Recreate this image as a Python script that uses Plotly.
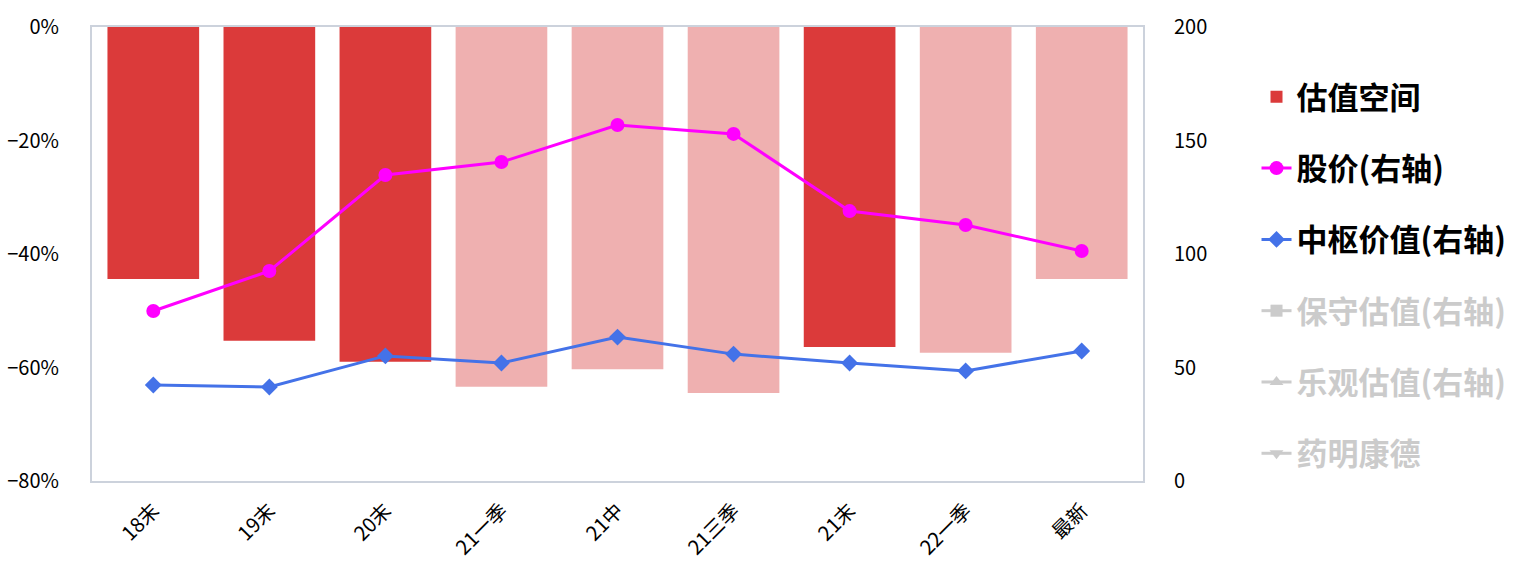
import plotly.graph_objects as go

categories = ["18末", "19末", "20末", "21一季", "21中", "21三季", "21末", "22一季", "最新"]
valuation_space = [-44.4, -55.3, -59.0, -63.4, -60.3, -64.5, -56.4, -57.4, -44.4]
stock_price = [74.9, 92.5, 134.8, 140.5, 156.8, 152.9, 118.9, 112.8, 101.3]
central_value = [42.3, 41.4, 55.1, 52.0, 63.4, 55.9, 52.0, 48.5, 57.3]
hidden_series = ["保守估值(右轴)", "乐观估值(右轴)", "药明康德"]
left_ticks = [0, -20, -40, -60, -80]
left_tick_labels = ["0%", "−20%", "−40%", "−60%", "−80%"]
right_ticks = [0, 50, 100, 150, 200]

DARK = "#DB3A3A"
LIGHT = "#EFB0B0"
bar_colors = [DARK, DARK, DARK, LIGHT, LIGHT, LIGHT, DARK, LIGHT, LIGHT]
hidden_symbols = ["square", "triangle-up", "triangle-down"]

FONT = "Noto Sans CJK SC"
GREY = "#999999"

fig = go.Figure()
fig.add_trace(go.Bar(x=categories, y=valuation_space, name="<b>估值空间</b>",
                     marker=dict(color=bar_colors, line=dict(width=0)),
                     legendgroup="a", yaxis="y"))
fig.add_trace(go.Scatter(x=categories, y=stock_price, name="<b>股价(右轴)</b>", mode="lines+markers",
                         line=dict(color="#FF00FF", width=3),
                         marker=dict(symbol="circle", size=14, color="#FF00FF"),
                         legendgroup="b", yaxis="y2"))
fig.add_trace(go.Scatter(x=categories, y=central_value, name="<b>中枢价值(右轴)</b>", mode="lines+markers",
                         line=dict(color="#4472E8", width=3),
                         marker=dict(symbol="diamond", size=13, color="#4472E8"),
                         legendgroup="c", yaxis="y2"))
for i, (nm, sym) in enumerate(zip(hidden_series, hidden_symbols)):
    fig.add_trace(go.Scatter(x=categories, y=[None] * len(categories),
                             name=f"<b><span style='color:{GREY}'>{nm}</span></b>",
                             mode="lines+markers", visible="legendonly",
                             line=dict(color="#999999", width=3),
                             marker=dict(symbol=sym, size=12, color="#999999"),
                             legendgroup=f"h{i}", yaxis="y2"))

axis_line = "#CCD2DC"
fig.update_layout(
    width=1529, height=585,
    margin=dict(l=92, r=386, t=27, b=104, autoexpand=False),
    paper_bgcolor="white", plot_bgcolor="white",
    font=dict(family=FONT, color="black", size=20),
    bargap=0.21,
    showlegend=True,
    legend=dict(x=1.108, xanchor="left", y=0.905, yanchor="top",
                font=dict(size=31, family=FONT, color="black"),
                tracegroupgap=28, itemwidth=30, traceorder="grouped",
                bgcolor="rgba(0,0,0,0)"),
    xaxis=dict(type="category", tickangle=-45, showgrid=False, ticks="", automargin=False,
               showline=True, linecolor=axis_line, linewidth=2, mirror=True,
               tickfont=dict(size=20), ticklabelstandoff=8),
    yaxis=dict(range=[-80, 0], tickvals=left_ticks, ticktext=left_tick_labels, automargin=False,
               showgrid=False, zeroline=False, ticks="",
               showline=True, linecolor=axis_line, linewidth=2, mirror=True,
               tickfont=dict(size=20), ticklabelstandoff=27),
    yaxis2=dict(range=[0, 200], tickvals=right_ticks, overlaying="y", side="right", automargin=False,
                showgrid=False, zeroline=False, ticks="", showline=False,
                tickfont=dict(size=20), ticklabelstandoff=30),
)

fig.write_html("out.html")
